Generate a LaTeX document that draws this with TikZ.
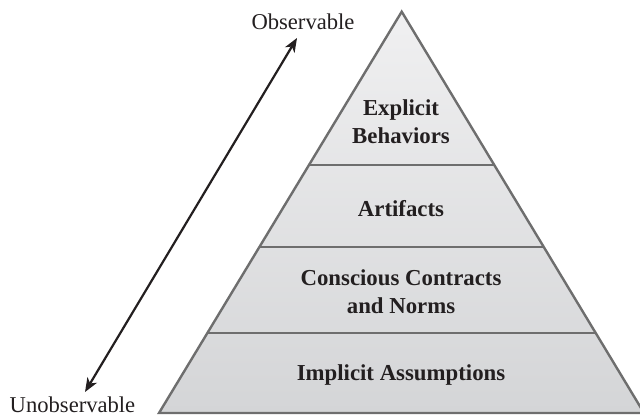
\documentclass[tikz,border=0pt]{standalone}
\usepackage{fontspec}
\setmainfont{Liberation Serif}
\usetikzlibrary{calc,arrows.meta}
\definecolor{pyrline}{HTML}{6E6E6E}
\definecolor{pyrtop}{HTML}{F0F0F1}
\definecolor{pyrbot}{HTML}{D4D5D7}
\definecolor{ink}{HTML}{231F20}
\tikzset{
  layer/.style={font=\fontsize{11.4}{14}\selectfont\bfseries, text=ink, align=center, inner sep=0pt},
  side/.style={font=\fontsize{11.3}{14}\selectfont, text=ink, inner sep=0pt, anchor=base},
  divider/.style={draw=pyrline, line width=1.1pt}
}
\begin{document}
\begin{tikzpicture}[x=0.5pt,y=-0.5pt]
\clip (0,0) rectangle (640,416);
\coordinate (apex) at (401.7,11.7);
\coordinate (bl) at (159,413);
\coordinate (br) at (644,413);
\shade[top color=pyrtop, bottom color=pyrbot] (apex) -- (bl) -- (br) -- cycle;
\foreach \t in {0.382,0.586,0.801}
  \draw[divider] ($(apex)!\t!(bl)$) -- ($(apex)!\t!(br)$);
\draw[divider, line width=1.2pt, line join=miter] (apex) -- (bl) -- (br) -- cycle;
\node[layer] (lay0) at (401,121.5) {Explicit\\Behaviors};
\node[layer, anchor=base] (lay1) at (401,217) {Artifacts};
\node[layer] (lay2) at (401,291.5) {Conscious Contracts\\and Norms};
\node[layer, anchor=base] (lay3) at (401,380) {Implicit Assumptions};
\node[side] (obs) at (303,30) {Observable};
\node[side] (unobs) at (72.5,412) {Unobservable};
\coordinate (tipup) at (297,38);
\coordinate (tipdown) at (85,392);
\draw[ink, line width=1.1pt, {Stealth[length=7pt,width=5.5pt,inset=2pt]}-{Stealth[length=7pt,width=5.5pt,inset=2pt]}] (tipdown) -- (tipup);
\end{tikzpicture}
\end{document}
